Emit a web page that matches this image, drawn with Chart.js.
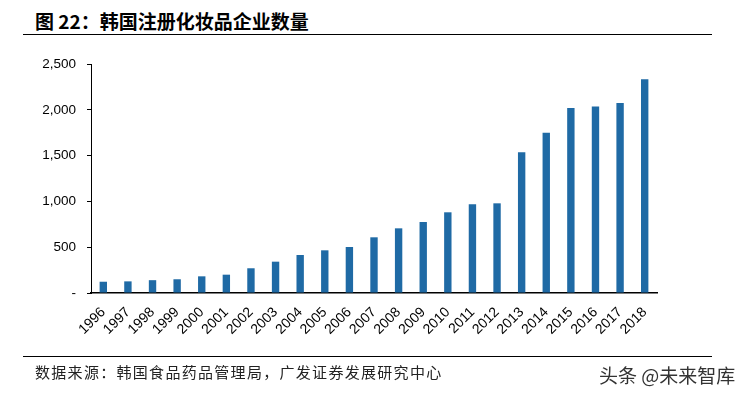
<!DOCTYPE html>
<html>
<head>
<meta charset="utf-8">
<script src="https://cdn.jsdelivr.net/npm/chart.js@4.4.1/dist/chart.umd.min.js"></script>
<style>
  html, body { margin: 0; padding: 0; background: #fff; }
  body { width: 751px; height: 396px; position: relative; overflow: hidden; font-family: "Liberation Sans", Arial, sans-serif; }
  #wrap { position: absolute; left: 0; top: 0; width: 751px; height: 396px; }
  .title { position: absolute; left: 35px; top: 9px; font-family: "Noto Sans CJK SC", sans-serif; font-weight: bold; font-size: 19px; line-height: 24px; color: #000; white-space: nowrap; }
  .rule { position: absolute; height: 0; border-top: 1.5px solid #000; }
  .source { position: absolute; left: 35px; top: 362px; font-family: "Noto Sans CJK SC", sans-serif; font-size: 15px; letter-spacing: 1.3px; line-height: 20px; color: #222; white-space: nowrap; }
  .mark { position: absolute; left: 599px; top: 363px; font-family: "Noto Sans CJK SC", sans-serif; font-size: 19px; line-height: 24px; color: #333; white-space: nowrap; }
</style>
</head>
<body>
<div class="title">图 22：韩国注册化妆品企业数量</div>
<div class="rule" style="left:23px; top:34px; width:689px;"></div>
<div id="wrap"><canvas id="c" width="751" height="396"></canvas></div>
<div class="rule" style="left:23px; top:356px; width:689px; border-top-width:1px;"></div>
<div class="source">数据来源：韩国食品药品管理局，广发证券发展研究中心</div>
<div class="mark">头条 @未来智库</div>
<script>
const years = ["1996","1997","1998","1999","2000","2001","2002","2003","2004","2005","2006","2007","2008","2009","2010","2011","2012","2013","2014","2015","2016","2017","2018"];
const companies = [123, 127, 140, 150, 182, 200, 270, 342, 415, 466, 502, 608, 706, 775, 881, 968, 979, 1536, 1750, 2020, 2035, 2074, 2333];
const yTicks = [0, 500, 1000, 1500, 2000, 2500];

const ctx = document.getElementById('c').getContext('2d');
new Chart(ctx, {
  type: 'bar',
  data: {
    labels: years,
    datasets: [{
      data: companies,
      backgroundColor: '#1f6aa5',
      barPercentage: 0.6,
      categoryPercentage: 0.5
    }]
  },
  options: {
    responsive: false,
    animation: false,
    devicePixelRatio: 1,
    layout: { padding: { left: 0, right: 94, top: 64, bottom: 0 } },
    plugins: { legend: { display: false }, tooltip: { enabled: false }, title: { display: false } },
    scales: {
      x: {
        grid: { display: false, drawTicks: false },
        border: { display: true, color: '#000', width: 1.5 },
        ticks: {
          color: '#000',
          font: { family: '"Liberation Sans", Arial, sans-serif', size: 14 },
          maxRotation: 45, minRotation: 45, autoSkip: false, padding: 11
        },
        afterFit: (s) => { s.height = 103; }
      },
      y: {
        min: 0, max: 2500,
        afterBuildTicks: (s) => { s.ticks = yTicks.map(v => ({ value: v })); },
        grid: { drawOnChartArea: false, drawTicks: true, tickLength: 4, color: '#000' },
        border: { display: true, color: '#000', width: 1 },
        ticks: {
          color: '#000',
          font: { family: '"Liberation Sans", Arial, sans-serif', size: 13.5 },
          padding: 11,
          callback: (v) => v === 0 ? '-' : Number(v).toLocaleString('en-US')
        },
        afterFit: (s) => { s.width = 91; }
      }
    }
  }
});
</script>
</body>
</html>
